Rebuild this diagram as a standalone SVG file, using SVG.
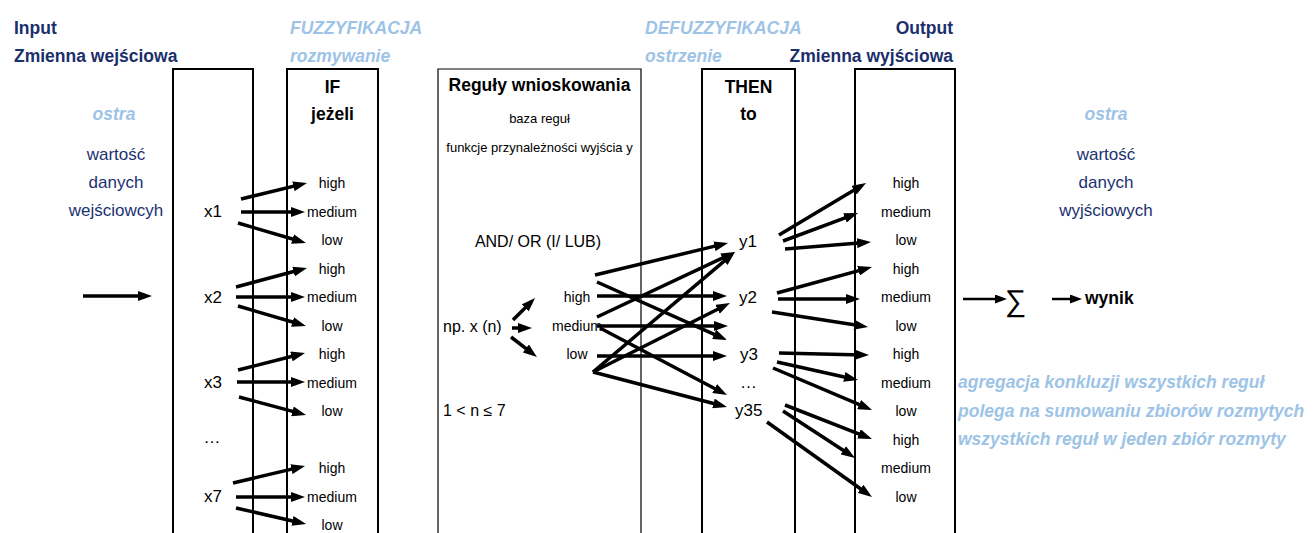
<svg xmlns="http://www.w3.org/2000/svg" width="1314" height="533" viewBox="0 0 1314 533">
<style>
text{font-family:"Liberation Sans",Arial,sans-serif;}
.hdr{font-size:17.5px;font-weight:bold;fill:#1B2F6B;}
.lb{font-size:17.5px;font-weight:bold;font-style:italic;fill:#9DC3E6;}
.nv{font-size:17px;fill:#1B3170;text-anchor:middle;}
.bk{font-size:17.5px;font-weight:bold;fill:#000;text-anchor:middle;}
.lab{font-size:14px;fill:#000;text-anchor:middle;}
.var{font-size:17px;fill:#000;}
.mid{font-size:16px;fill:#000;}
.sm{font-size:13px;fill:#000;text-anchor:middle;}
.box{fill:none;stroke:#000;stroke-width:2;}
.thin{fill:none;stroke:#000;stroke-width:1.2;}
.arr{stroke:#000;stroke-width:3.5;fill:none;marker-end:url(#ah);}
.arr2{stroke:#000;stroke-width:2.5;fill:none;marker-end:url(#ah2);}
</style>
<defs>
<marker id="ah" markerUnits="userSpaceOnUse" markerWidth="14" markerHeight="10" refX="8" refY="5" orient="auto"><path d="M0,0 L14,5 L0,10 z" fill="#000"/></marker>
<marker id="ah2" markerUnits="userSpaceOnUse" markerWidth="12" markerHeight="9" refX="7" refY="4.5" orient="auto"><path d="M0,0 L12,4.5 L0,9 z" fill="#000"/></marker>
</defs>
<rect width="1314" height="533" fill="#fff"/>

<g id="input">
<text class="hdr" x="14" y="34">Input</text>
<text class="hdr" x="14" y="62">Zmienna wejściowa</text>
<text class="lb" x="114" y="120" text-anchor="middle" font-size="17">ostra</text>
<text class="nv" x="116" y="160">wartość</text>
<text class="nv" x="116" y="188">danych</text>
<text class="nv" x="116" y="216">wejściowcyh</text>
</g>

<g id="fuzzy-label">
<text class="lb" x="290" y="34">FUZZYFIKACJA</text>
<text class="lb" x="290" y="62">rozmywanie</text>
</g>

<g id="box-x">
<path class="box" d="M173,533 V69 H253 V533"/>
<text class="var" x="213" y="217" text-anchor="middle">x1</text>
<text class="var" x="213" y="303" text-anchor="middle">x2</text>
<text class="var" x="213" y="388" text-anchor="middle">x3</text>
<text class="var" x="212" y="443" text-anchor="middle">…</text>
<text class="var" x="213" y="502" text-anchor="middle">x7</text>
</g>

<g id="box-if">
<path class="box" d="M287,533 V69 H378 V533"/>
<text class="bk" x="332.5" y="93">IF</text>
<text class="bk" x="332.5" y="120">jeżeli</text>
<text class="lab" x="332" y="188">high</text>
<text class="lab" x="332" y="216.5">medium</text>
<text class="lab" x="332" y="245">low</text>
<text class="lab" x="332" y="273.5">high</text>
<text class="lab" x="332" y="302">medium</text>
<text class="lab" x="332" y="330.5">low</text>
<text class="lab" x="332" y="359">high</text>
<text class="lab" x="332" y="387.5">medium</text>
<text class="lab" x="332" y="416">low</text>
<text class="lab" x="332" y="473">high</text>
<text class="lab" x="332" y="501.5">medium</text>
<text class="lab" x="332" y="530">low</text>
</g>

<g id="box-rules">
<path class="thin" d="M438,533 V69 H641 V533"/>
<text class="bk" x="539.5" y="91">Reguły wnioskowania</text>
<text class="sm" x="539.5" y="123">baza reguł</text>
<text class="sm" x="539.5" y="152">funkcje przynależności wyjścia y</text>
<text class="mid" x="538" y="247" text-anchor="middle">AND/ OR (I/ LUB)</text>
<text class="mid" x="443" y="332" font-size="16.5">np. x (n)</text>
<text class="lab" x="577" y="302">high</text>
<text class="lab" x="577" y="330.5">medium</text>
<text class="lab" x="577" y="359">low</text>
<text class="mid" x="443" y="416">1 &lt; n ≤ 7</text>
</g>

<g id="defuzzy-label">
<text class="lb" x="645" y="34">DEFUZZYFIKACJA</text>
<text class="lb" x="645" y="62">ostrzenie</text>
</g>

<g id="box-then">
<path class="box" d="M702,533 V69 H795 V533"/>
<text class="bk" x="748.5" y="93">THEN</text>
<text class="bk" x="748.5" y="120">to</text>
<text class="var" x="739" y="247">y1</text>
<text class="var" x="739" y="303">y2</text>
<text class="var" x="740" y="360">y3</text>
<text class="var" x="740" y="388">…</text>
<text class="var" x="735" y="416">y35</text>
</g>

<g id="box-output">
<text class="hdr" x="953" y="34" text-anchor="end">Output</text>
<text class="hdr" x="953" y="62" text-anchor="end">Zmienna wyjściowa</text>
<path class="box" d="M855,533 V69 H955 V533"/>
<text class="lab" x="906" y="188">high</text>
<text class="lab" x="906" y="216.5">medium</text>
<text class="lab" x="906" y="245">low</text>
<text class="lab" x="906" y="273.5">high</text>
<text class="lab" x="906" y="302">medium</text>
<text class="lab" x="906" y="330.5">low</text>
<text class="lab" x="906" y="359">high</text>
<text class="lab" x="906" y="387.5">medium</text>
<text class="lab" x="906" y="416">low</text>
<text class="lab" x="906" y="444.5">high</text>
<text class="lab" x="906" y="473">medium</text>
<text class="lab" x="906" y="501.5">low</text>
</g>

<g id="output-value">
<text class="lb" x="1106" y="120" text-anchor="middle" font-size="17">ostra</text>
<text class="nv" x="1106" y="160">wartość</text>
<text class="nv" x="1106" y="188">danych</text>
<text class="nv" x="1106" y="216">wyjściowych</text>
</g>

<g id="sum">
<text x="1005" y="311" font-size="30" fill="#000">∑</text>
</g>

<g id="result">
<text x="1085" y="304" font-size="17.5" font-weight="bold" fill="#000">wynik</text>
</g>

<g id="aggregation-note">
<text class="lb" x="958" y="388">agregacja konkluzji wszystkich reguł</text>
<text class="lb" x="958" y="417">polega na sumowaniu zbiorów rozmytych</text>
<text class="lb" x="958" y="445">wszystkich reguł w jeden zbiór rozmyty</text>
</g>

<g id="connectors">
<line class="arr" x1="83" y1="296" x2="146" y2="296" stroke-width="3"/>
<line class="arr" x1="241" y1="199" x2="301.2" y2="184.4"/>
<line class="arr" x1="241" y1="212" x2="299" y2="212"/>
<line class="arr" x1="238" y1="223" x2="300.2" y2="241.3"/>
<line class="arr" x1="236" y1="287" x2="301.2" y2="269.5"/>
<line class="arr" x1="236" y1="297" x2="299" y2="297"/>
<line class="arr" x1="238" y1="306" x2="300.2" y2="324.3"/>
<line class="arr" x1="238" y1="370" x2="299.2" y2="354.5"/>
<line class="arr" x1="237" y1="382" x2="299" y2="382"/>
<line class="arr" x1="239" y1="397" x2="300.2" y2="413.4"/>
<line class="arr" x1="233" y1="483" x2="299.2" y2="467.4"/>
<line class="arr" x1="236" y1="497" x2="299" y2="497"/>
<line class="arr" x1="236" y1="508" x2="300.2" y2="522.7"/>

<line class="arr" x1="513" y1="320" x2="530.8" y2="302.2"/>
<line class="arr" x1="512" y1="328" x2="526" y2="328"/>
<line class="arr" x1="511" y1="337" x2="532.2" y2="353.3"/>

<line class="arr" x1="595" y1="275" x2="722.2" y2="244.4"/>
<line class="arr" x1="597" y1="282" x2="721.5" y2="337.6"/>
<line class="arr" x1="597" y1="296" x2="721" y2="296"/>
<line class="arr" x1="597" y1="317" x2="729.6" y2="254.6"/>
<line class="arr" x1="597" y1="326" x2="722" y2="326"/>
<line class="arr" x1="600" y1="328" x2="721.7" y2="392.2"/>
<line class="arr" x1="597" y1="356" x2="721" y2="356"/>
<line class="arr" x1="593" y1="372" x2="730.4" y2="255.9"/>
<line class="arr" x1="593" y1="372" x2="724.6" y2="305.7"/>
<line class="arr" x1="593" y1="372" x2="721.2" y2="405.5"/>

<line class="arr" x1="779" y1="235" x2="860.9" y2="186.1"/>
<line class="arr" x1="783" y1="241" x2="852.4" y2="215.1"/>
<line class="arr" x1="785" y1="249" x2="865" y2="242.5"/>
<line class="arr" x1="777" y1="293" x2="866.2" y2="268.6"/>
<line class="arr" x1="778" y1="299" x2="854" y2="299"/>
<line class="arr" x1="772" y1="312" x2="862.1" y2="326.1"/>
<line class="arr" x1="779" y1="353" x2="863" y2="354.9"/>
<line class="arr" x1="777" y1="362" x2="852.1" y2="378.7"/>
<line class="arr" x1="773" y1="368" x2="866.5" y2="407.7"/>
<line class="arr" x1="785" y1="405" x2="866.4" y2="436.8"/>
<line class="arr" x1="783" y1="411" x2="850" y2="454.7"/>
<line class="arr" x1="767" y1="422" x2="867.1" y2="493.5"/>

<line class="arr2" x1="963" y1="299" x2="1002" y2="299"/>
<line class="arr2" x1="1052" y1="299" x2="1077" y2="299"/>
</g>
</svg>
